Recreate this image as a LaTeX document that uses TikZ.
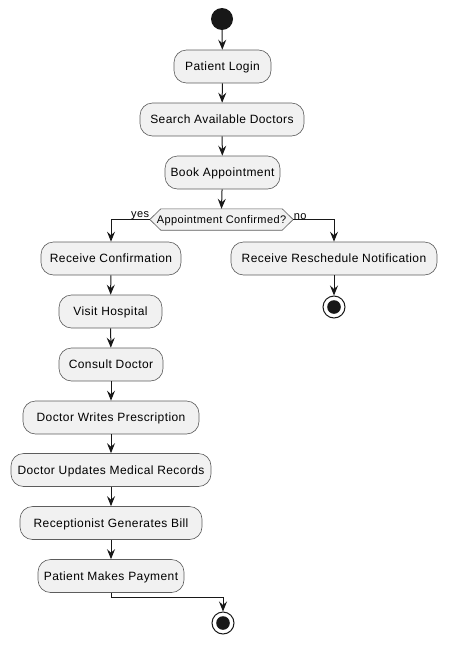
\documentclass[tikz,border=0pt]{standalone}
\usepackage{fontspec}
\setmainfont[LetterSpace=3.5]{Liberation Sans}
\usetikzlibrary{arrows.meta}
\definecolor{boxfill}{HTML}{F1F1F1}
\definecolor{boxline}{HTML}{181818}
\tikzset{
  act/.style={draw=boxline!70, line width=0.6pt, fill=boxfill, rounded corners=12.5pt,
    minimum height=33pt, inner sep=0pt, text height=8.6pt, text depth=0pt,
    font=\fontsize{12}{14}\selectfont, text=black},
  flow/.style={draw=boxline, line width=1pt, -{Stealth[length=10pt,width=8pt,inset=3.5pt]}},
  small/.style={font=\fontsize{11}{13}\selectfont, inner sep=0.5pt},
}
\begin{document}
\begin{tikzpicture}[x=1pt,y=-1pt]
\useasboundingbox (0,0) rectangle (448,645);
\node[circle, fill=boxline, minimum size=22pt, inner sep=0pt] (start) at (222,19) {};
\node[act, minimum width=97pt] (login) at (222.5,66.5) {Patient Login};
\node[act, minimum width=164pt] (search) at (222,119.5) {Search Available Doctors};
\node[act, minimum width=115pt] (book) at (222.5,172.5) {Book Appointment};
\node[small, minimum width=143pt, minimum height=21pt, inner sep=0pt] (dec) at (221.5,219.5) {};
\draw[draw=boxline!70, line width=0.6pt, fill=boxfill]
  (dec.west) -- ([xshift=11pt]dec.north west) -- ([xshift=-11pt]dec.north east) -- (dec.east)
  -- ([xshift=-11pt]dec.south east) -- ([xshift=11pt]dec.south west) -- cycle;
\node[small, text height=7.9pt, text depth=0pt] (dectext) at (dec) {Appointment Confirmed?};
\node[act, minimum width=140pt] (recv) at (111,258.5) {Receive Confirmation};
\node[act, minimum width=206pt] (resched) at (334,258.5) {Receive Reschedule Notification};
\node[circle, draw=boxline, line width=1pt, fill=white, minimum size=22pt, inner sep=0pt] (endR) at (334,307) {};
\fill[boxline] (endR) circle (6.8pt);
\node[act, minimum width=103pt] (visit) at (110.5,311.5) {Visit Hospital};
\node[act, minimum width=104pt] (consult) at (111,364.5) {Consult Doctor};
\node[act, minimum width=176pt] (presc) at (111,417.5) {Doctor Writes Prescription};
\node[act, minimum width=200pt] (update) at (111,470) {Doctor Updates Medical Records};
\node[act, minimum width=182pt] (bill) at (111,523) {Receptionist Generates Bill};
\node[act, minimum width=146pt] (pay) at (111,576) {Patient Makes Payment};
\node[circle, draw=boxline, line width=1pt, fill=white, minimum size=22pt, inner sep=0pt] (endB) at (223,623) {};
\fill[boxline] (endB) circle (6.8pt);
\coordinate (join) at (111,597);

\draw[flow] (start) -- (login);
\draw[flow] (login) -- (search);
\draw[flow] (search) -- (book);
\draw[flow] (book) -- (dec.north);
\draw[flow] (dec.west) -| (recv.north);
\draw[flow] (dec.east) -| (resched.north);
\node[small, anchor=south east] (yes) at ([yshift=-0.5pt]dec.west) {yes};
\node[small, anchor=south west] (no) at ([yshift=-0.5pt]dec.east) {no};
\draw[flow] (resched) -- (endR);
\draw[flow] (recv) -- (visit);
\draw[flow] (visit) -- (consult);
\draw[flow] (consult) -- (presc);
\draw[flow] (presc) -- (update);
\draw[flow] (update) -- (bill);
\draw[flow] (bill) -- (pay);
\draw[flow] (pay.south) -- (join) -| (endB.north);
\end{tikzpicture}
\end{document}
